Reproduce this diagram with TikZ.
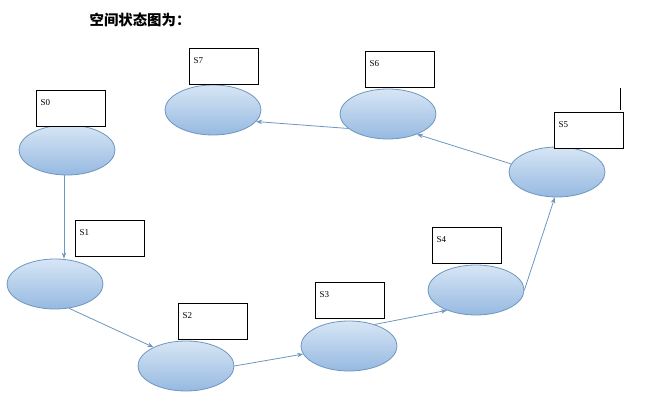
\documentclass[tikz,border=0pt]{standalone}
\usepackage{fontspec}
\setmainfont{Liberation Serif}
\newfontfamily\cjk{Noto Sans CJK SC}
\usetikzlibrary{positioning}
\usetikzlibrary{calc}
\usetikzlibrary{shapes.geometric}
\usepgflibrary{arrows.meta}
\definecolor{edgeblue}{RGB}{110,150,190}
\definecolor{topblue}{RGB}{215,230,245}
\definecolor{botblue}{RGB}{150,185,225}

\tikzset{
  state/.style={ellipse, draw=edgeblue, thick, top color=topblue, bottom color=botblue,
    minimum width=96pt, minimum height=50pt, inner sep=0pt},
  tag/.style={draw=black, fill=white, minimum width=69pt, minimum height=36pt,
    anchor=north west, inner sep=0pt, font=\small},
  flow/.style={draw=edgeblue, thick, -{Stealth[length=6pt]}}
}

\begin{document}
\begin{tikzpicture}[x=1pt, y=-1pt]
    \useasboundingbox (0,0) rectangle (645,406);
    \node[font=\cjk\bfseries\Large] (title) at (140,20) {空间状态图为：};

    % states
    \node[state] (s0) at (67,150) {};
    \node[state] (s1) at (55,284) {};
    \node[state] (s2) at (186,366) {};
    \node[state] (s3) at (349,346) {};
    \node[state] (s4) at (476,290) {};
    \node[state] (s5) at (557,172) {};
    \node[state] (s6) at (388,114) {};
    \node[state] (s7) at (213,110) {};

    % labels
    \foreach \name/\x/\y/\txt in {t0/36/90/S0, t1/75/220/S1, t2/178/303/S2, t3/315/282/S3,
        t4/432/227/S4, t5/554/112/S5, t6/365/51/S6, t7/189/48/S7}
      \node[tag] (\name) at (\x,\y) {\makebox[60pt][l]{\txt}\rule[-12pt]{0pt}{0pt}};

    \draw[thick] (620,88) coordinate (cur1) -- (620,110) coordinate (cur2);

    % transitions
    \path[flow] ([xshift=-3pt]s0.south) -- ([xshift=9pt]s1.north);
    \path[flow] (s1.-60) -- (s2.150);
    \path[flow] (s2.east) -- (s3.190);
    \path[flow] (s3.40) -- (s4.215);
    \path[flow] (s4.east) -- (s5.-95);
    \path[flow] (s5.170) -- (s6.-35);
    \path[flow] (s6.200) -- (s7.-15);
\end{tikzpicture}
\end{document}
